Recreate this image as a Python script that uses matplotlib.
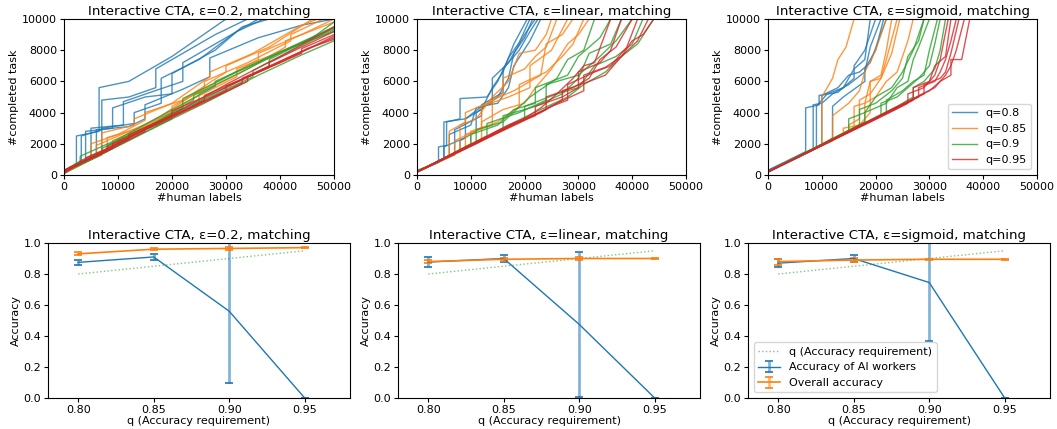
import matplotlib
matplotlib.use("Agg")
import matplotlib.pyplot as plt

plt.rcParams['font.family'] = ['DejaVu Sans']
plt.rcParams['font.size'] = 8

# ---------------- top row: runs, vertices as (k human labels, k completed tasks) ----------------
eps02_q080 = [
    [(0,0.2),(2.3,0.6),(2.3,2.5),(6.5,2.8),(6.5,5.6),(12,6.0),(20,7.6),(25,8.8),(30,10.0)],
    [(0,0.2),(3.2,0.7),(3.2,2.5),(7,2.9),(7,4.8),(12,5.0),(17,5.6),(17,6.8),(24,8.2),(28,9.0),(34,10.0)],
    [(0,0.2),(5,1.0),(5,3.0),(11,3.2),(11,4.7),(16,5.3),(22,6.0),(22,7.2),(30,8.8),(36,10.0)],
    [(0,0.2),(7,1.3),(7,3.0),(13,3.3),(13,4.0),(18,4.6),(18,6.2),(25,7.4),(32,9.2),(37,10.0)],
    [(0,0.2),(4,0.9),(4,2.8),(9,3.0),(9,4.3),(15,5.0),(20,5.2),(20,6.5),(28,8.0),(33,9.5),(38,10.0)],
    [(0,0.2),(6,1.2),(6,2.9),(12,3.1),(15,3.6),(15,4.5),(22,5.5),(27,6.3),(27,7.5),(36,8.8),(44,9.6),(50,10.0)],
]
eps02_q085 = [
    [(0,0.2),(5,1.0),(5,2.0),(10,2.6),(15,3.5),(15,4.0),(22,4.8),(30,6.6),(30,7.0),(38,8.2),(46,10.0)],
    [(0,0.2),(6,1.2),(6,1.9),(12,2.8),(20,4.0),(20,4.4),(28,5.9),(36,7.4),(36,7.8),(44,9.0),(50,10.0)],
    [(0,0.3),(8,1.5),(8,2.4),(14,3.0),(18,3.8),(26,5.6),(26,6.0),(34,7.2),(42,8.6),(42,9.0),(48,10.0)],
    [(0,0.2),(4,0.9),(9,1.8),(9,2.2),(16,3.3),(24,4.9),(32,6.3),(32,6.8),(40,7.9),(50,9.4)],
    [(0,0.2),(7,1.3),(7,2.7),(13,3.2),(13,3.6),(20,4.6),(27,6.3),(27,6.6),(35,7.8),(44,9.6),(47,10.0)],
    [(0,0.1),(10,1.9),(10,2.3),(18,3.3),(25,4.6),(25,5.2),(33,6.6),(41,8.2),(41,8.6),(50,9.8)],
]
eps02_q090 = [
    [(0,0.2),(2,0.7),(8,1.6),(8,1.9),(16,3.2),(24,4.8),(24,5.1),(34,6.8),(42,8.2),(50,9.5)],
    [(0,0.3),(5,1.0),(12,2.2),(20,3.6),(20,3.9),(30,5.6),(38,7.0),(38,7.4),(46,8.8),(50,9.8)],
    [(0,0.1),(4,0.8),(14,2.6),(26,4.6),(36,6.4),(44,7.7),(50,8.6)],
    [(0,0.2),(3,0.9),(3,1.2),(10,2.3),(18,3.8),(28,5.7),(28,6.0),(40,7.9),(50,9.2)],
    [(0,0.2),(6,1.3),(15,3.0),(22,4.3),(22,4.9),(32,6.6),(45,8.6),(50,9.4)],
    [(0,0.3),(7,1.4),(7,1.7),(19,3.7),(27,5.0),(35,6.3),(35,6.7),(48,9.0),(50,9.3)],
]
eps02_q095 = [
    [(0,0.2),(1,0.5),(4,0.9),(4,1.1),(12,2.3),(12,2.6),(22,4.1),(30,5.4),(30,5.7),(40,7.2),(50,8.9)],
    [(0,0.1),(2,0.6),(9,1.7),(9,2.0),(18,3.4),(26,4.8),(26,5.1),(36,6.6),(44,7.8),(44,8.1),(50,9.0)],
    [(0,0.3),(6,1.2),(15,2.8),(15,3.0),(24,4.4),(33,5.9),(33,6.2),(42,7.6),(50,8.8)],
    [(0,0.2),(3,0.7),(3,0.9),(10,2.0),(20,3.8),(20,4.1),(28,5.3),(38,6.9),(38,7.2),(50,9.2)],
    [(0,0.2),(5,1.1),(16,3.1),(30,5.8),(40,7.6),(50,9.5)],
    [(0,0.3),(8,1.6),(8,1.8),(17,3.2),(25,4.5),(34,6.0),(34,6.3),(45,8.1),(50,8.7)],
]

lin_q080 = [
    [(0,0.2),(4,0.8),(4,1.8),(5.5,1.9),(5.5,3.4),(8,3.6),(8,4.9),(13,5.0),(15,6.0),(17,7.5),(19,8.5),(21,10.0)],
    [(0,0.2),(5,1.0),(5,1.8),(9,2.4),(9,3.6),(12,4.2),(14,5.6),(16,6.6),(18,8.4),(20.5,10.0)],
    [(0,0.2),(6,1.2),(6,2.6),(10,3.2),(11,4.3),(14,4.6),(14,6.2),(17,7.2),(20,9.0),(22,10.0)],
    [(0,0.2),(7,1.3),(7,2.9),(12,3.8),(12,4.5),(16,5.3),(16,6.8),(19,8.0),(21,9.2),(22.5,10.0)],
    [(0,0.2),(8,1.6),(8,2.2),(11,2.8),(11,4.0),(15,5.0),(17,6.2),(18,7.8),(20,8.8),(21.5,10.0)],
    [(0,0.2),(5,1.0),(5,3.4),(9,3.6),(12,4.4),(15,4.6),(17,5.6),(18,7.0),(21,8.6),(23,10.0)],
]
lin_q085 = [
    [(0,0.2),(6,1.2),(6,2.8),(9,3.4),(9,4.0),(13,4.6),(16,5.2),(16,6.2),(20,6.8),(22,7.6),(24,8.2),(26,10.0)],
    [(0,0.2),(7,1.3),(7,2.2),(12,3.0),(12,4.4),(17,5.0),(21,5.6),(21,7.0),(25,8.0),(28,10.0)],
    [(0,0.2),(9,1.7),(9,2.6),(14,3.2),(14,4.8),(18,5.4),(23,6.4),(24,8.4),(27,9.0),(29,10.0)],
    [(0,0.2),(10,1.9),(10,2.8),(15,3.4),(19,4.4),(19,5.8),(24,6.6),(27,7.6),(29,8.4),(31,10.0)],
    [(0,0.2),(12,2.2),(12,3.4),(16,4.2),(20,4.6),(22,5.6),(25,6.8),(28,8.4),(30,9.0),(32,10.0)],
    [(0,0.2),(8,1.5),(8,3.2),(11,3.6),(14,5.0),(17,6.0),(19,7.8),(22,8.0),(24,9.0),(25,10.0)],
]
lin_q090 = [
    [(0,0.3),(3,0.7),(10,2.0),(10,2.6),(15,3.2),(18,4.2),(22,4.6),(22,5.6),(28,6.4),(30,7.6),(34,8.8),(36,10.0)],
    [(0,0.2),(8,1.6),(13,2.5),(13,3.3),(19,4.0),(24,4.8),(24,5.8),(30,6.4),(34,7.6),(37,8.6),(40,10.0)],
    [(0,0.2),(12,2.2),(16,3.0),(16,3.8),(22,4.4),(27,5.2),(30,6.2),(32,7.8),(36,8.4),(38,10.0)],
    [(0,0.2),(14,2.6),(20,3.6),(20,4.4),(26,5.2),(30,5.6),(33,7.0),(37,7.6),(40,8.4),(42,10.0)],
    [(0,0.2),(10,1.9),(17,3.2),(23,4.2),(28,5.0),(31,5.8),(35,6.6),(38,7.6),(41,8.4),(44,10.0)],
    [(0,0.2),(11,2.1),(11,2.9),(16,3.4),(21,5.0),(26,6.2),(28,7.4),(31,8.0),(33,10.0)],
]
lin_q095 = [
    [(0,0.2),(10,1.9),(18,3.3),(22,3.8),(22,4.4),(27,5.0),(30,5.6),(30,6.6),(34,7.2),(36,8.0),(38,10.0)],
    [(0,0.2),(12,2.2),(20,3.5),(25,4.4),(28,4.8),(28,5.8),(33,6.6),(36,7.0),(39,8.2),(41,10.0)],
    [(0,0.2),(14,2.6),(21,3.7),(26,4.6),(31,5.4),(31,6.4),(35,6.9),(38,7.6),(40,8.6),(42,9.0),(44,10.0)],
    [(0,0.2),(9,1.8),(17,3.2),(24,4.2),(24,5.0),(29,5.6),(32,6.2),(34,7.4),(37,8.2),(40,10.0)],
    [(0,0.2),(15,2.8),(23,4.0),(27,4.8),(27,5.4),(32,6.0),(35,6.4),(38,7.6),(41,8.6),(43,10.0)],
    [(0,0.2),(11,2.0),(19,3.4),(23,4.3),(26,5.2),(29,6.2),(31,7.0),(33,7.2),(36,10.0)],
]

sig_q080 = [
    [(0,0.3),(7,1.5),(7,4.3),(9.5,4.5),(9.5,5.1),(13,5.3),(16,6.2),(16,7.0),(18,8.0),(20,10.0)],
    [(0,0.2),(8.4,1.6),(8.4,4.5),(10,4.6),(12,5.2),(15,5.8),(18,6.6),(19,8.2),(21,10.0)],
    [(0,0.2),(10,1.9),(10,5.1),(13,5.6),(15,6.4),(17,6.6),(19,7.2),(20.5,8.6),(22,10.0)],
    [(0,0.3),(12,2.2),(12,4.4),(14,5.0),(18,6.0),(18,6.8),(20,8.0),(21.5,10.0)],
    [(0,0.2),(9,1.8),(9,4.4),(11,5.2),(14,5.6),(16,6.8),(18,7.4),(19,10.0)],
]
sig_q085 = [
    [(0,0.2),(10,1.9),(10,5.0),(12,6.2),(13,7.4),(14.5,8.2),(16,10.0)],
    [(0,0.2),(10,1.9),(12,2.4),(12,3.8),(15,4.6),(17,5.4),(18,6.6),(20,8.0),(22,10.0)],
    [(0,0.2),(15,2.8),(15,3.2),(17,3.6),(17,4.8),(19,5.2),(21,6.2),(23,7.8),(24.5,10.0)],
    [(0,0.2),(16,3.0),(16,4.4),(18,4.6),(19,6.0),(21,6.4),(22,8.0),(23,10.0)],
    [(0,0.2),(18,3.4),(18,4.6),(20,5.0),(22,6.0),(24,6.6),(25,7.6),(26,8.6),(27,10.0)],
    [(0,0.2),(14,2.6),(14,3.0),(17,3.2),(19,4.0),(19,6.0),(21,6.2),(22,7.4),(24,10.0)],
]
sig_q090 = [
    [(0,0.2),(15,2.8),(15,3.6),(18,4.0),(20,5.0),(23,5.6),(25,6.6),(27,8.0),(29,10.0)],
    [(0,0.2),(18,3.4),(18,4.0),(22,4.6),(24,5.6),(26,6.0),(27,7.4),(28,8.2),(30,10.0)],
    [(0,0.2),(20,3.6),(22,4.0),(22,4.8),(25,5.4),(27,6.0),(29,6.4),(30,8.0),(31.5,10.0)],
    [(0,0.2),(17,3.2),(17,4.2),(20,4.6),(23,5.4),(25,6.2),(26,7.6),(28,8.6),(29,10.0)],
    [(0,0.2),(24,4.4),(27,5.0),(27,5.6),(29,6.0),(31,6.8),(32,8.0),(33,10.0)],
    [(0,0.2),(21,3.8),(21,4.6),(24,5.0),(26,5.6),(28,6.2),(30,7.0),(31,8.4),(32,10.0)],
]
sig_q095 = [
    [(0,0.2),(22,3.9),(26,4.6),(26,5.2),(29,5.6),(31,6.4),(32,7.4),(33.5,10.0)],
    [(0,0.2),(24,4.3),(28,5.0),(28,5.6),(31,6.0),(32,6.6),(33,7.4),(34,8.6),(35,10.0)],
    [(0,0.2),(25,4.5),(29,5.2),(29,5.8),(32,6.2),(33,6.6),(34,7.8),(35.5,10.0)],
    [(0,0.2),(26,4.7),(30,5.4),(32,6.0),(34,6.4),(34,7.4),(36,7.4),(37.5,10.0)],
    [(0,0.2),(23,4.1),(27,4.8),(27,5.6),(30,6.0),(31,7.0),(33,7.6),(34,10.0)],
    [(0,0.2),(27,4.9),(31,5.6),(33,6.4),(34,7.0),(35,8.0),(36.5,10.0)],
]

q_labels = ['q=0.8', 'q=0.85', 'q=0.9', 'q=0.95']
top_titles = ['Interactive CTA, ε=0.2, matching',
              'Interactive CTA, ε=linear, matching',
              'Interactive CTA, ε=sigmoid, matching']

# ---------------- bottom row ----------------
q_levels = [0.80, 0.85, 0.90, 0.95]
eps02_ai_mean = [0.875, 0.91, 0.56, 0.0]
eps02_ai_err = [0.015, 0.02, 0.46, 0.0]
eps02_all_mean = [0.93, 0.96, 0.965, 0.97]
eps02_all_err = [0.01, 0.005, 0.01, 0.005]
lin_ai_mean = [0.877, 0.90, 0.475, 0.0]
lin_ai_err = [0.032, 0.025, 0.47, 0.0]
lin_all_mean = [0.88, 0.895, 0.90, 0.90]
lin_all_err = [0.01, 0.01, 0.01, 0.006]
sig_ai_mean = [0.87, 0.90, 0.745, 0.0]
sig_ai_err = [0.025, 0.022, 0.375, 0.0]
sig_all_mean = [0.88, 0.89, 0.895, 0.895]
sig_all_err = [0.02, 0.015, 0.005, 0.005]

colors = ['#1f77b4', '#ff7f0e', '#2ca02c', '#d62728']
UNIT = 1000

W, H = 1057, 429
fig = plt.figure(figsize=(W / 100, H / 100), dpi=100)

def fpos(l, r, t, b):
    return [l / W, 1 - b / H, (r - l) / W, (b - t) / H]

top_pos = [fpos(64, 334, 19, 175), fpos(417, 686, 19, 175), fpos(768, 1037, 19, 175)]
bot_pos = [fpos(48, 350, 243, 398), fpos(398, 700, 243, 398), fpos(748, 1050, 243, 398)]

top_groups = [
    [eps02_q080, eps02_q085, eps02_q090, eps02_q095],
    [lin_q080, lin_q085, lin_q090, lin_q095],
    [sig_q080, sig_q085, sig_q090, sig_q095],
]

for i, (pos, groups, title) in enumerate(zip(top_pos, top_groups, top_titles)):
    ax = fig.add_axes(pos)
    for runs, col, lab in zip(groups, colors, q_labels):
        for j, run in enumerate(runs):
            xs = [p[0] * UNIT for p in run]
            ys = [p[1] * UNIT for p in run]
            ax.plot(xs, ys, color=col, lw=1.0, alpha=0.8,
                    label=lab if j == 0 else None)
    ax.set_xlim(0, 50000)
    ax.set_ylim(0, 10000)
    ax.set_xticks([0, 10000, 20000, 30000, 40000, 50000])
    ax.set_yticks([0, 2000, 4000, 6000, 8000, 10000])
    ax.set_xlabel('#human labels', labelpad=1)
    ax.set_ylabel('#completed task', labelpad=2)
    ax.set_title(title, fontsize=9.6, pad=3)
    ax.tick_params(length=3, pad=2)
    if i == 2:
        ax.legend(loc='lower right', fontsize=8, handlelength=2.2)

bot_data = [
    (eps02_ai_mean, eps02_ai_err, eps02_all_mean, eps02_all_err),
    (lin_ai_mean, lin_ai_err, lin_all_mean, lin_all_err),
    (sig_ai_mean, sig_ai_err, sig_all_mean, sig_all_err),
]

def styled_errorbar(ax, x, y, e, col, lw, label):
    cont = ax.errorbar(x, y, yerr=e, color=col, lw=lw, elinewidth=2.0,
                       capsize=3, capthick=1.2, label=label)
    for coll in cont[2]:
        coll.set_alpha(0.55)
    return cont

for i, (pos, (aim, aie, alm, ale), title) in enumerate(zip(bot_pos, bot_data, top_titles)):
    ax = fig.add_axes(pos)
    ax.plot(q_levels, q_levels, ':', color=colors[2], alpha=0.6, lw=1.0,
            label='q (Accuracy requirement)')
    styled_errorbar(ax, q_levels, aim, aie, colors[0], 1.0, 'Accuracy of AI workers')
    styled_errorbar(ax, q_levels, alm, ale, colors[1], 1.2, 'Overall accuracy')
    ax.set_xlim(0.78, 0.98)
    ax.set_ylim(0, 1.0)
    ax.set_xticks(q_levels)
    ax.set_xticklabels(['%.2f' % q for q in q_levels])
    ax.set_yticks([0, 0.2, 0.4, 0.6, 0.8, 1.0])
    ax.set_xlabel('q (Accuracy requirement)', labelpad=1)
    ax.set_ylabel('Accuracy', labelpad=2)
    ax.set_title(title, fontsize=9.6, pad=3)
    ax.tick_params(length=3, pad=2)
    if i == 2:
        ax.legend(loc='lower left', fontsize=8)

fig.savefig('out.png', dpi=100)
